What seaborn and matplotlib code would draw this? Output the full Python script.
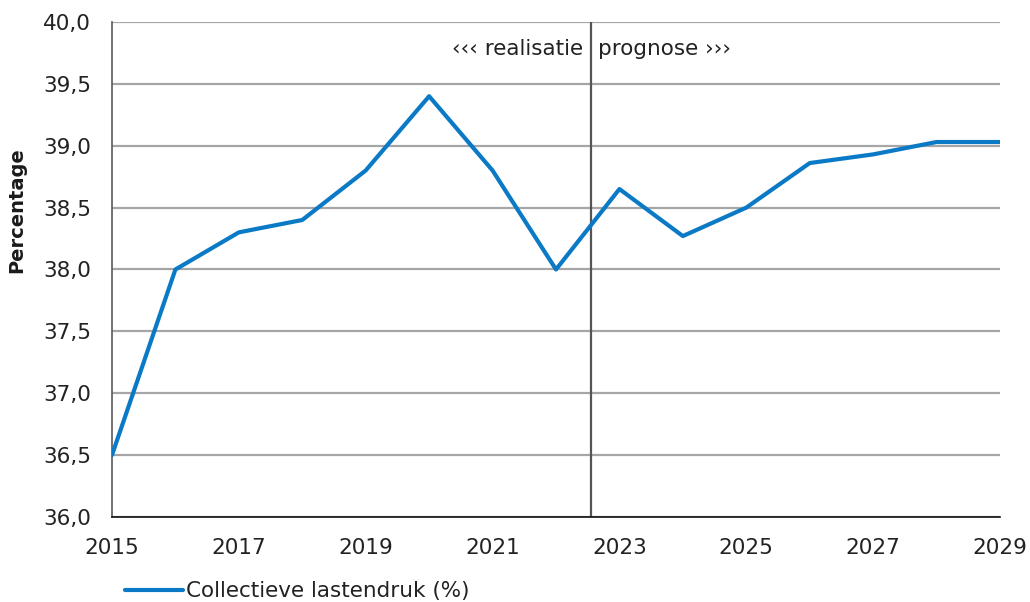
import numpy as np
import pandas as pd
import matplotlib
matplotlib.use('Agg')
import matplotlib.pyplot as plt
import matplotlib.ticker as mticker
import seaborn as sns

# Data
years = [2015, 2016, 2017, 2018, 2019, 2020, 2021, 2022,
         2023, 2024, 2025, 2026, 2027, 2028, 2029]
lastendruk = [36.5, 38.0, 38.3, 38.4, 38.8, 39.4, 38.8, 38.0,
              38.65, 38.27, 38.5, 38.86, 38.93, 39.03, 39.03]
series_label = 'Collectieve lastendruk (%)'
split_year = 2022.55

line_color = '#0a7ac6'
font_size = 15.5

sns.set_theme(style='white')
plt.rcParams['font.family'] = ['DejaVu Sans']

df = pd.DataFrame({'jaar': years, 'waarde': lastendruk})

fig = plt.figure(figsize=(10.3, 6.02), dpi=100)
ax = fig.add_axes([0.1087, 0.1412, 0.8622, 0.8223])

sns.lineplot(data=df, x='jaar', y='waarde', ax=ax, color=line_color,
             linewidth=3, label=series_label, zorder=3)

ax.set_xlim(2015, 2029)
ax.set_ylim(36.0, 40.0)
ax.set_xticks(range(2015, 2030, 2))
ax.set_yticks(np.arange(36.0, 40.01, 0.5))
ax.yaxis.set_major_formatter(mticker.FuncFormatter(lambda v, p: f'{v:.1f}'.replace('.', ',')))
ax.tick_params(axis='both', labelsize=font_size, colors='#222222', length=0)
ax.tick_params(axis='y', pad=15)
ax.tick_params(axis='x', pad=15)

ax.grid(axis='y', color='#a6a6a6', linewidth=1.6)
ax.grid(axis='x', visible=False)
for s in ['top', 'right']:
    ax.spines[s].set_visible(False)
ax.spines['left'].set_color('#595959')
ax.spines['left'].set_linewidth(1.2)
ax.spines['bottom'].set_color('#111111')
ax.spines['bottom'].set_linewidth(1.2)

ax.axvline(split_year, color='#555555', linewidth=1.6, zorder=2)
ax.text(split_year - 0.12, 39.78, '\u2039\u2039\u2039 realisatie', ha='right', va='center',
        fontsize=font_size, color='#222222')
ax.text(split_year + 0.12, 39.78, 'prognose \u203a\u203a\u203a', ha='left', va='center',
        fontsize=font_size, color='#222222')

ax.set_xlabel('')
ax.set_ylabel('Percentage', fontsize=14, fontweight='semibold', color='#1a1a1a')
ax.yaxis.set_label_coords(-0.096, 0.62)

ax.legend(loc='center left', bbox_to_anchor=(0.005, -0.15), frameon=False,
          fontsize=font_size, handlelength=2.7, handletextpad=0.15,
          borderaxespad=0, labelcolor='#222222')

fig.savefig('out.png', dpi=100)
